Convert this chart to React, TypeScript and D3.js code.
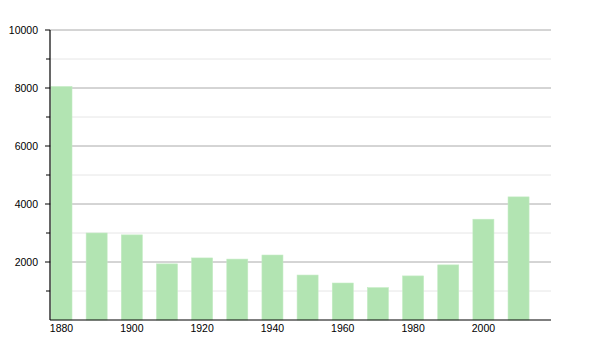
import React from "react";
import * as d3 from "d3";

const years = [1880, 1890, 1900, 1910, 1920, 1930, 1940, 1950, 1960, 1970, 1980, 1990, 2000, 2010];
const population = [8050, 3000, 2935, 1935, 2140, 2100, 2240, 1550, 1275, 1115, 1520, 1900, 3475, 4245];
const yMajorTicks = [2000, 4000, 6000, 8000, 10000];
const yMinorTicks = [1000, 3000, 5000, 7000, 9000];
const xLabelYears = [1880, 1900, 1920, 1940, 1960, 1980, 2000];

const W = 600;
const H = 350;
const left = 50;
const right = 551;
const top = 30;
const bottom = 320;

export default function App() {
  const x = d3.scaleLinear().domain([1880, 2022.5]).range([left, right]);
  const y = d3.scaleLinear().domain([0, 10000]).range([bottom, top]);
  const barW = 21;
  const font = "'Liberation Sans', Arial, Helvetica, sans-serif";

  return (
    <svg width={W} height={H} style={{ position: "absolute", left: 0, top: 0 }}>
      <rect width={W} height={H} fill="#fff" />
      {yMinorTicks.map((t) => (
        <g key={"mn" + t}>
          <line x1={left} x2={right} y1={y(t)} y2={y(t)} stroke="#e6e6e6" strokeWidth={1} />
          <line x1={left - 4} x2={left} y1={y(t)} y2={y(t)} stroke="#000" strokeWidth={1} />
        </g>
      ))}
      {yMajorTicks.map((t) => (
        <g key={"mj" + t}>
          <line x1={left} x2={right} y1={y(t)} y2={y(t)} stroke="#aaaaaa" strokeWidth={1} />
          <line x1={left - 5} x2={left} y1={y(t)} y2={y(t)} stroke="#000" strokeWidth={1} />
          <text x={38} y={y(t)} dy="0.35em" textAnchor="end" fontSize={10.5} fontFamily={font} fill="#000">
            {t}
          </text>
        </g>
      ))}
      {years.map((yr, i) => (
        <rect
          key={yr}
          x={x(yr) + 1}
          y={y(population[i])}
          width={barW}
          height={bottom - y(population[i])}
          fill="#b2e4b2"
          stroke="#c2ebc2"
          strokeWidth={0.6}
        />
      ))}
      <line x1={left} x2={left} y1={top} y2={bottom} stroke="#000" strokeWidth={1.2} />
      <line x1={left} x2={right} y1={bottom} y2={bottom} stroke="#000" strokeWidth={1.2} />
      {xLabelYears.map((yr) => (
        <text key={yr} x={x(yr) + 1 + barW / 2} y={bottom + 12} textAnchor="middle" fontSize={10.5} fontFamily={font} fill="#000">
          {yr}
        </text>
      ))}
    </svg>
  );
}
